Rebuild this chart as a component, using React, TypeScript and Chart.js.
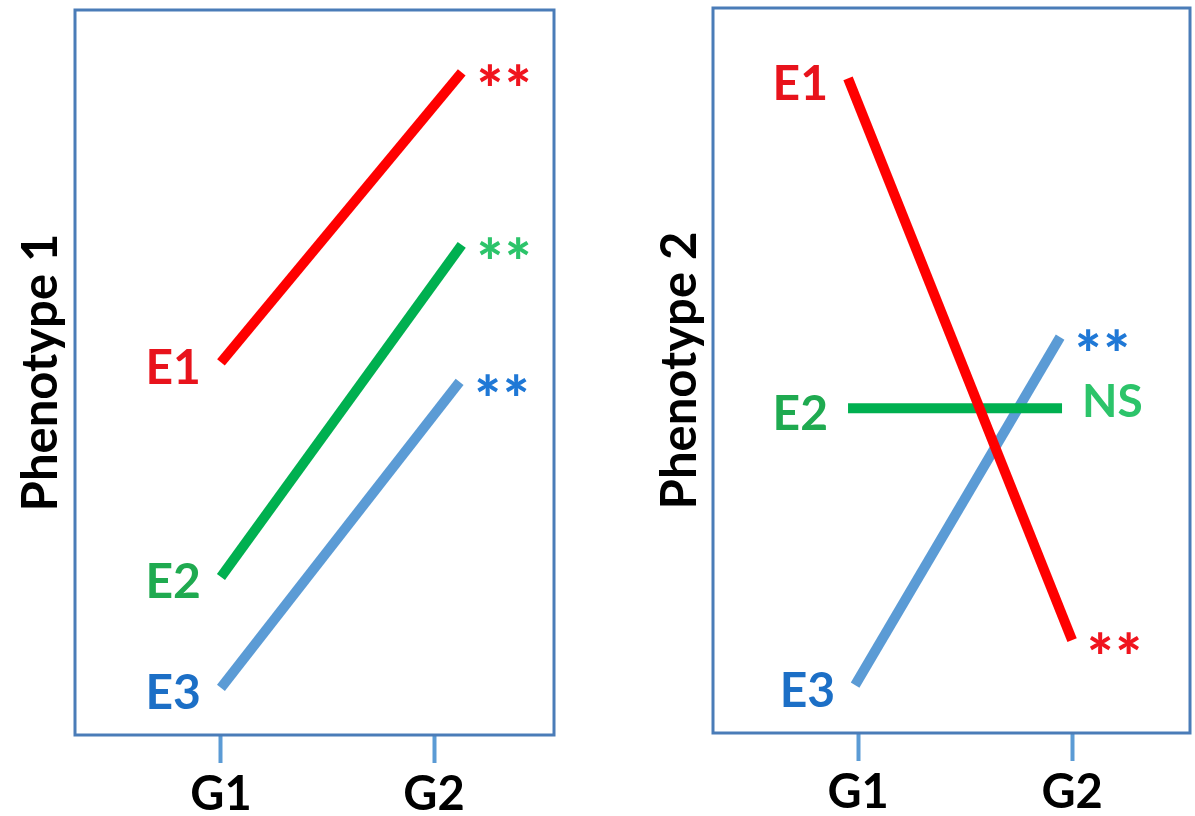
import React, { useEffect, useRef } from 'react';
import { Chart, registerables } from 'chart.js';

Chart.register(...registerables);

// ---- data ----
const GROUPS = ['G1', 'G2'];
const GROUP_POS = [1, 2];
const ENVIRONMENTS = ['E1', 'E2', 'E3'];
const LINE_COLORS = ['#ff0000', '#00b050', '#5b9bd5'];
const LABEL_COLORS = ['#e8131c', '#1faa50', '#1c6fc6'];
const MARK_COLORS = ['#f0141e', '#2cc46a', '#1f78d6'];

const P1_TITLE = 'Phenotype 1';
const P1_START_X = [1.0, 1.0, 1.0];
const P1_END_X = [2.13, 2.13, 2.12];
const P1_G1 = [51.4, 21.8, 6.5];
const P1_G2 = [91.4, 67.6, 48.7];
const P1_MARKS = ['**', '**', '**'];
const P1_X_RANGE = [0.315, 2.563];

const P2_TITLE = 'Phenotype 2';
const P2_START_X = [0.953, 0.953, 0.986];
const P2_END_X = [2.0, 1.953, 1.944];
const P2_G1 = [90.3, 44.8, 6.6];
const P2_G2 = [12.8, 44.8, 54.6];
const P2_MARKS = ['**', 'NS', '**'];
const P2_X_RANGE = [0.322, 2.551];

const Y_RANGE = [0, 100];

const FONT = 'Lato';

const boxPlugin = {
  id: 'boxBorder',
  afterDatasetsDraw(chart: any) {
    const { ctx, chartArea } = chart;
    ctx.save();
    ctx.strokeStyle = '#4a7cb8';
    ctx.lineWidth = 3;
    ctx.strokeRect(chartArea.left, chartArea.top, chartArea.right - chartArea.left, chartArea.bottom - chartArea.top);
    ctx.restore();
  },
};

const endLabelPlugin = {
  id: 'endLabels',
  afterDatasetsDraw(chart: any, _args: any, opts: any) {
    const { ctx } = chart;
    const xs = chart.scales.x;
    const ys = chart.scales.y;
    chart.data.datasets.forEach((ds: any, i: number) => {
      const p0 = ds.data[0];
      const p1 = ds.data[ds.data.length - 1];
      ctx.save();
      ctx.textBaseline = 'middle';
      ctx.font = `bold 48px ${FONT}`;
      ctx.fillStyle = LABEL_COLORS[i];
      ctx.textAlign = 'right';
      ctx.fillText(ENVIRONMENTS[i], xs.getPixelForValue(p0.x) - 20, ys.getPixelForValue(p0.y) + 6);
      const mark = opts.marks[i];
      ctx.textAlign = 'left';
      ctx.fillStyle = MARK_COLORS[i];
      if (mark === 'NS') {
        ctx.font = `bold 46px ${FONT}`;
        ctx.fillText(mark, xs.getPixelForValue(p1.x) + 20, ys.getPixelForValue(p1.y) - 6);
      } else {
        ctx.font = `900 62px ${FONT}`;
        (ctx as any).letterSpacing = '2px';
        ctx.fillText(mark, xs.getPixelForValue(p1.x) + 15, ys.getPixelForValue(p1.y) + 20);
      }
      ctx.restore();
    });
  },
};

type PanelProps = {
  left: number;
  width: number;
  title: string;
  startX: number[];
  endX: number[];
  g1: number[];
  g2: number[];
  marks: string[];
  xRange: number[];
  pad: { left: number; right: number; top: number };
  yWidth: number;
  xHeight: number;
};

function Panel(p: PanelProps) {
  const ref = useRef<HTMLCanvasElement | null>(null);
  useEffect(() => {
    if (!ref.current) return;
    const datasets = ENVIRONMENTS.map((name, i) => ({
      label: name,
      data: [
        { x: p.startX[i], y: p.g1[i] },
        { x: p.endX[i], y: p.g2[i] },
      ],
      borderColor: LINE_COLORS[i],
      backgroundColor: LINE_COLORS[i],
      borderWidth: 10,
      borderCapStyle: 'butt' as const,
      pointRadius: 0,
      tension: 0,
    }));
    const chart = new Chart(ref.current, {
      type: 'line',
      data: { datasets },
      options: {
        animation: false,
        responsive: false,
        devicePixelRatio: 1,
        layout: { padding: { left: p.pad.left, right: p.pad.right, top: p.pad.top, bottom: 0 } },
        plugins: {
          legend: { display: false },
          tooltip: { enabled: false },
          endLabels: { marks: p.marks },
        } as any,
        scales: {
          x: {
            type: 'linear',
            min: p.xRange[0],
            max: p.xRange[1],
            afterBuildTicks: (scale: any) => {
              scale.ticks = GROUP_POS.map((v) => ({ value: v }));
            },
            afterFit: (scale: any) => {
              scale.height = p.xHeight;
            },
            ticks: {
              autoSkip: false,
              maxRotation: 0,
              padding: 4,
              color: '#000000',
              font: { family: FONT, size: 47, weight: 'bold' },
              callback: (v: any) => GROUPS[GROUP_POS.indexOf(Number(v))] ?? '',
            },
            grid: {
              drawOnChartArea: false,
              drawTicks: true,
              tickLength: 28,
              tickColor: '#5b9bd5',
              tickWidth: 4,
            },
            border: { display: false },
          },
          y: {
            type: 'linear',
            min: Y_RANGE[0],
            max: Y_RANGE[1],
            afterFit: (scale: any) => {
              scale.width = p.yWidth;
            },
            ticks: { display: false },
            grid: { display: false },
            border: { display: false },
            title: {
              display: true,
              text: p.title,
              color: '#000000',
              padding: { top: 4, bottom: 4 },
              font: { family: FONT, size: 49, weight: 'bold', lineHeight: 1.2 },
            },
          },
        },
      },
      plugins: [boxPlugin, endLabelPlugin],
    });
    return () => chart.destroy();
  }, []);
  return (
    <canvas
      ref={ref}
      width={p.width}
      height={816}
      style={{ position: 'absolute', left: p.left, top: 0, width: p.width, height: 816 }}
    />
  );
}

export default function App() {
  return (
    <div style={{ position: 'fixed', left: 0, top: 0, width: 1195, height: 816, background: '#ffffff', overflow: 'hidden' }}>
      <Panel
        left={0}
        width={600}
        title={P1_TITLE}
        startX={P1_START_X}
        endX={P1_END_X}
        g1={P1_G1}
        g2={P1_G2}
        marks={P1_MARKS}
        xRange={P1_X_RANGE}
        pad={{ left: 8, right: 46, top: 10 }}
        yWidth={67}
        xHeight={81}
      />
      <Panel
        left={600}
        width={595}
        title={P2_TITLE}
        startX={P2_START_X}
        endX={P2_END_X}
        g1={P2_G1}
        g2={P2_G2}
        marks={P2_MARKS}
        xRange={P2_X_RANGE}
        pad={{ left: 47, right: 5, top: 8 }}
        yWidth={66}
        xHeight={83}
      />
    </div>
  );
}
